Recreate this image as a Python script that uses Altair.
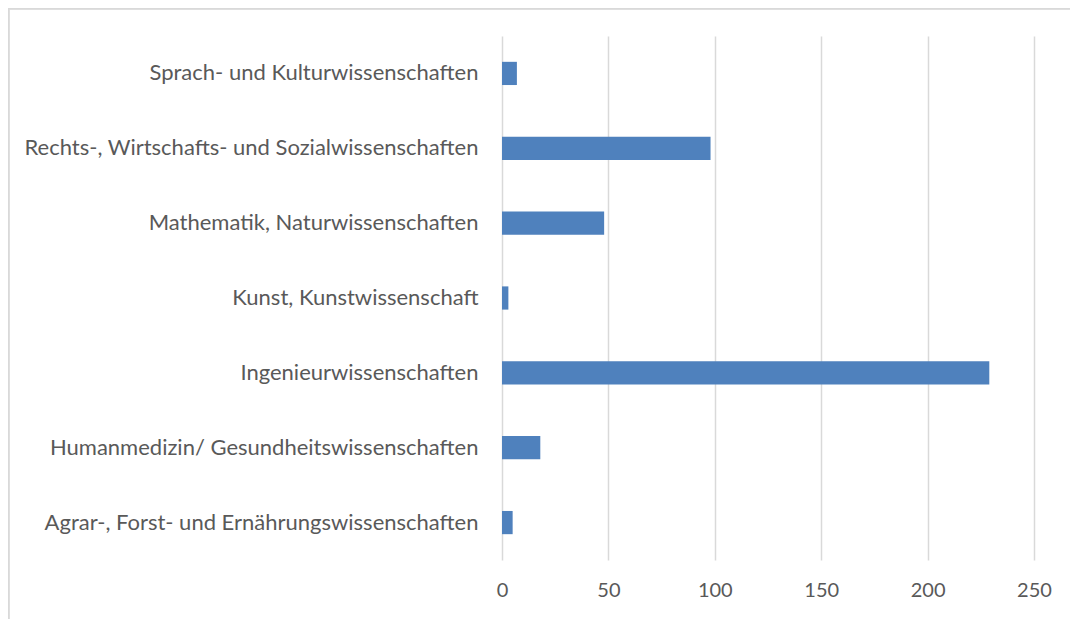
import altair as alt
import pandas as pd

categories = [
    "Sprach- und Kulturwissenschaften",
    "Rechts-, Wirtschafts- und Sozialwissenschaften",
    "Mathematik, Naturwissenschaften",
    "Kunst, Kunstwissenschaft",
    "Ingenieurwissenschaften",
    "Humanmedizin/ Gesundheitswissenschaften",
    "Agrar-, Forst- und Ernährungswissenschaften",
]
values = [7, 98, 48, 3, 229, 18, 5]
x_ticks = [0, 50, 100, 150, 200, 250]

df = pd.DataFrame({"cat": categories, "val": values})

FONT = "Lato"
TXT = "#595959"

bars = alt.Chart(df).mark_bar(color="#4F81BD").encode(
    y=alt.Y(
        "cat:N",
        sort=categories,
        title=None,
        scale=alt.Scale(paddingInner=0.69, paddingOuter=0.345),
        axis=alt.Axis(
            domain=False, ticks=False, grid=False,
            labelFont=FONT, labelFontSize=22, labelColor=TXT,
            labelPadding=24, labelLimit=600,
        ),
    ),
    x=alt.X(
        "val:Q",
        title=None,
        scale=alt.Scale(domain=[0, 250], nice=False),
        axis=alt.Axis(
            values=x_ticks, domain=False, ticks=False,
            grid=True, gridColor="#D9D9D9", gridWidth=1.5,
            labelFont=FONT, labelFontSize=20, labelColor=TXT,
            labelPadding=20, labelFlush=False,
        ),
    ),
)

border_top = alt.Chart(df).mark_rule(color="#D9D9D9", strokeWidth=1.5).encode(
    x=alt.value(-494), x2=alt.value(600), y=alt.value(-27.5)
)
border_left = alt.Chart(df).mark_rule(color="#D9D9D9", strokeWidth=1.5).encode(
    x=alt.value(-493.5), y=alt.value(-28), y2=alt.value(600)
)

chart = alt.layer(bars, border_top, border_left).properties(
    width=532,
    height=524,
    padding={"left": 494, "top": 28, "right": 36, "bottom": 59},
    autosize=alt.AutoSizeParams(type="none"),
).configure_view(stroke=None)

chart.save("out.html", embed_options={"renderer": "svg", "actions": False})
